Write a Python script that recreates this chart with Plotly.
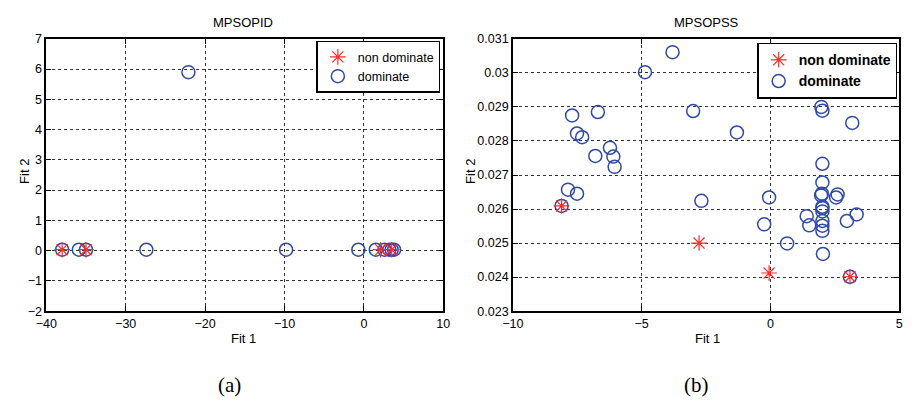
import plotly.graph_objects as go

# ---- data (a) MPSOPID ----
a_nd_x = [-38.0, -35.0, 2.1, 3.5]
a_nd_y = [0.03, 0.03, 0.03, 0.03]
a_d_x = [-38.0, -35.9, -35.0, -27.4, -22.1, -9.8, -0.7, 1.5, 2.6, 3.2, 3.5, 3.8]
a_d_y = [0.03, 0.03, 0.03, 0.03, 5.9, 0.03, 0.03, 0.03, 0.03, 0.03, 0.03, 0.03]

# ---- data (b) MPSOPSS ----
b_nd_x = [-8.11, -2.77, -0.05, 3.09]
b_nd_y = [0.02609, 0.02500, 0.02412, 0.02401]
b_d_x = [-8.11, -7.86, -7.51, -7.70, -6.70, -7.51, -7.31, -6.80, -6.23, -6.10, -6.05,
         -4.87, -3.80, -3.00, -2.68, -1.30, -0.05, -0.24, 0.65,
         1.41, 1.51, 1.98, 2.02, 2.02, 2.02, 2.00, 1.97, 2.02, 2.02, 2.02, 2.02, 2.02, 2.02, 2.04,
         2.55, 2.61, 2.97, 3.18, 3.35, 3.09]
b_d_y = [0.02609, 0.02657, 0.02645, 0.02875, 0.02885, 0.02822, 0.02811, 0.02756, 0.02780, 0.02754, 0.02724,
         0.03002, 0.03061, 0.02888, 0.02624, 0.02825, 0.02634, 0.02555, 0.02499,
         0.02579, 0.02552, 0.02900, 0.02889, 0.02733, 0.02678, 0.02645, 0.02640, 0.02607, 0.02603,
         0.02593, 0.02565, 0.02551, 0.02536, 0.02468,
         0.02634, 0.02643, 0.02565, 0.02853, 0.02584, 0.02401]

a_xticks = [-40, -30, -20, -10, 0, 10]
a_yticks = [-2, -1, 0, 1, 2, 3, 4, 5, 6, 7]
b_xticks = [-10, -5, 0, 5]
b_yticks = [0.023, 0.024, 0.025, 0.026, 0.027, 0.028, 0.029, 0.03, 0.031]
b_yticklabels = ["0.023", "0.024", "0.025", "0.026", "0.027", "0.028", "0.029", "0.03", "0.031"]

RED = "#ff2a2a"
BLUE = "#3049a8"
FONT = "Liberation Sans, Arial, sans-serif"
SERIF = "Liberation Serif, Times New Roman, serif"

W, H = 913, 406
def px(x): return x / W
def py(y): return 1 - y / H

fig = go.Figure()

# (a)
fig.add_trace(go.Scatter(x=a_d_x, y=a_d_y, mode="markers", name="dominate",
                         marker=dict(symbol="circle-open", size=13, color=BLUE, line=dict(width=1.5, color=BLUE)),
                         xaxis="x", yaxis="y", legend="legend", legendrank=2))
fig.add_trace(go.Scatter(x=a_nd_x, y=a_nd_y, mode="markers", name="non dominate",
                         marker=dict(symbol="asterisk-open", size=13, color=RED, line=dict(width=1.2, color=RED)),
                         xaxis="x", yaxis="y", legend="legend", legendrank=1))
# (b)
fig.add_trace(go.Scatter(x=b_d_x, y=b_d_y, mode="markers", name="dominate",
                         marker=dict(symbol="circle-open", size=13, color=BLUE, line=dict(width=1.5, color=BLUE)),
                         xaxis="x2", yaxis="y2", legend="legend2", legendrank=2))
fig.add_trace(go.Scatter(x=b_nd_x, y=b_nd_y, mode="markers", name="non dominate",
                         marker=dict(symbol="asterisk-open", size=13, color=RED, line=dict(width=1.2, color=RED)),
                         xaxis="x2", yaxis="y2", legend="legend2", legendrank=1))

axis_common = dict(showline=True, linecolor="black", linewidth=1.5, mirror="ticks",
                   ticks="inside", ticklen=5, tickcolor="black", tickwidth=1,
                   showgrid=True, gridcolor="#333333", griddash="dot", gridwidth=1,
                   zeroline=False, tickfont=dict(family=FONT, size=12.5, color="black"))

ydom = [py(315), py(33)]
fig.update_layout(
    width=W, height=H, margin=dict(l=0, r=0, t=0, b=0),
    paper_bgcolor="white", plot_bgcolor="white",
    font=dict(family=FONT, size=12, color="black"),
    xaxis=dict(domain=[px(36), px(441)], range=[-40, 10], tickvals=a_xticks, anchor="y", **axis_common),
    yaxis=dict(domain=ydom, range=[-2, 7], tickvals=a_yticks, anchor="x", **axis_common),
    xaxis2=dict(domain=[px(512), px(906)], range=[-10, 5], tickvals=b_xticks, anchor="y2", **axis_common),
    yaxis2=dict(domain=ydom, range=[0.023, 0.031], tickvals=b_yticks, ticktext=b_yticklabels,
                anchor="x2", **axis_common),
    legend=dict(x=px(438), y=py(35), xanchor="right", yanchor="top", bgcolor="white",
                bordercolor="black", borderwidth=1.5, font=dict(family=FONT, size=12.5),
                tracegroupgap=0, itemwidth=30),
    legend2=dict(x=px(904), y=py(37), xanchor="right", yanchor="top", bgcolor="white",
                 bordercolor="black", borderwidth=1.5,
                 font=dict(family=FONT, size=14, weight="bold"),
                 tracegroupgap=0, itemwidth=30),
)

ann = [
    dict(text="MPSOPID", x=px(237), y=py(16), size=13),
    dict(text="MPSOPSS", x=px(709), y=py(16), size=13),
    dict(text="Fit 1", x=px(237), y=py(343), size=13),
    dict(text="Fit 1", x=px(710), y=py(343), size=13),
    dict(text="Fit 2", x=px(13), y=py(170), size=13, textangle=-90),
    dict(text="Fit 2", x=px(468), y=py(170), size=13, textangle=-90),
]
for a in ann:
    s = a.pop("size")
    fig.add_annotation(xref="paper", yref="paper", showarrow=False, xanchor="center", yanchor="middle",
                       font=dict(family=FONT, size=s, color="black"), **a)
fig.add_annotation(text="(a)", x=px(223), y=py(392), xref="paper", yref="paper", showarrow=False,
                   xanchor="center", yanchor="middle",
                   font=dict(family=SERIF, size=21, color="black"))
fig.add_annotation(text="(b)", x=px(699), y=py(392), xref="paper", yref="paper", showarrow=False,
                   xanchor="center", yanchor="middle",
                   font=dict(family=SERIF, size=21, color="black"))

fig.write_html("out.html", config={"displayModeBar": False},
               post_script="document.body.style.margin='0px';")
